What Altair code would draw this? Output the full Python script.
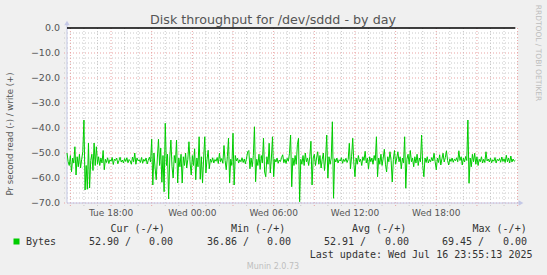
import altair as alt
import pandas as pd

# ---------------- data ----------------
start_hour = 14.75          # hours since Tue 00:00 (first sample)
step_minutes = 5
read_values = [
    -50.0, -53.5, -55.0, -51.0, -57.5, -52.0, -54.0, -47.5, -58.8, -51.5, -55.5, -50.5, -56.0, -52.5, -49.5, -36.8,
    -64.8, -55.0, -64.5, -46.0, -64.0, -53.0, -50.5, -57.0, -46.0, -55.0, -47.5, -54.5, -51.5, -55.0, -52.0, -54.0, -49.0, -56.7,
    -52.5, -53.8, -51.9, -54.2, -52.7, -53.3, -51.8, -54.6, -52.4, -53.0,
    -52.0, -54.3, -53.1, -51.7, -53.6, -52.8, -54.0, -52.2, -53.4, -51.9,
    -53.9, -52.6, -53.2, -54.5, -51.6, -53.5, -50.0, -54.5, -52.0, -53.1,
    -52.7, -53.8, -51.8, -54.1, -52.5, -53.3, -52.0, -54.4, -52.9, -51.7, -53.6,
    -44.5, -62.8, -50.0, -56.0, -60.7, -52.0, -44.5, -55.0, -48.0, -61.7, -51.0, -65.5, -38.1, -55.0, -50.5, -68.4,
    -52.0, -44.8, -55.5, -60.0, -51.0, -54.0, -44.8, -62.0,
    -52.0, -55.5, -50.5, -62.0, -51.5, -55.0, -50.0, -56.0, -52.5, -45.5, -54.0, -58.8, -51.0, -55.0, -48.3, -60.7,
    -52.0, -55.5, -43.5, -60.5, -51.5, -62.0, -52.0, -43.5, -58.0, -52.5, -48.9, -56.3,
    -52.4, -53.7, -51.9, -54.0, -52.6, -53.3, -51.8, -54.2, -50.1, -53.5, -52.2, -54.1,
    -47.0, -53.0, -56.7, -51.5, -44.1, -62.0, -52.5, -55.0, -42.1, -62.8, -51.0,
    -53.2, -52.1, -54.0, -52.7, -53.5, -51.9, -53.8, -52.4, -54.3, -52.0,
    -49.5, -49.0, -56.3, -52.0, -55.5, -51.0, -39.5, -61.5, -52.5, -55.0, -50.5, -56.5, -51.0, -54.0, -44.1, -57.6,
    -59.5, -51.5, -54.5, -46.1, -58.0, -52.0, -43.5, -59.5, -52.5,
    -53.6, -52.0, -54.1, -52.8, -53.4, -51.8, -50.7, -53.9, -52.5, -54.2, -52.1, -53.3, -50.1,
    -42.8, -63.5, -52.0, -55.0, -51.0, -54.5, -46.7, -44.1, -69.5, -52.5, -54.5, -51.0, -55.0, -50.0, -53.5, -52.0,
    -55.0, -51.5, -45.3, -62.8, -52.0,
    -50.5, -55.0, -52.0, -49.5, -54.5, -51.0, -56.0, -52.5, -50.0, -57.0,
    -52.0, -42.8, -60.0, -51.5, -54.5, -52.0, -37.5, -68.1,
    -52.3, -53.6, -52.0, -54.0, -52.7, -53.2, -51.9, -54.1, -52.5, -53.4, -52.1, -53.8, -52.6,
    -46.1, -56.3, -51.5, -44.1, -54.0, -59.5,
    -52.0, -54.5, -51.0, -53.5, -52.5, -55.0, -51.5, -53.0, -49.3, -54.0, -52.0, -56.3, -51.5, -53.5, -52.0, -54.5, -51.0,
    -53.0, -43.5, -59.5, -52.0, -54.5,
    -50.5, -55.0, -52.0, -48.5, -54.5, -57.6, -51.5, -53.5,
    -49.5, -53.0, -61.6, -52.5, -49.0, -54.5, -52.0, -49.5, -53.5, -51.5, -56.3, -52.0, -54.0, -43.5, -64.1, -52.5,
    -50.5, -54.5, -49.0, -53.5, -52.0, -55.5, -51.5, -54.0, -50.5, -55.0, -52.0,
    -53.5, -42.8, -55.0, -59.5,
    -52.0, -53.8, -51.5, -54.0, -52.6, -53.5, -51.8, -53.2,
    -50.1, -53.5, -56.7,
    -52.0, -53.8, -50.7, -54.8, -52.3, -50.1, -53.6, -51.8, -49.1, -53.0,
    -54.8,
    -52.3, -53.4, -52.0, -53.7, -52.5, -53.1, -51.9, -53.5,
    -49.1,
    -53.0, -51.5, -54.8, -52.0, -53.6, -51.4, -53.0,
    -36.8, -62.1, -52.0,
    -55.5, -50.5, -53.5, -50.1, -54.5, -51.5, -55.0, -52.5,
    -53.5, -51.5, -54.0, -52.5, -53.8, -49.5, -53.2,
    -52.4, -53.6, -52.0, -53.9, -52.7, -53.3, -51.8, -54.0, -52.5, -53.1, -52.2, -53.7, -51.6,
    -53.4, -52.3, -53.8, -50.9, -53.5, -52.0, -54.0, -51.2, -53.6, -52.4, -53.3, -52.9,
]
times = [start_hour + i * step_minutes / 60 for i in range(len(read_values))]
write_values = [0.0 for _ in read_values]   # write series is flat at 0 (drawn as the black top line)

x_domain = [14.75, 48.03]
y_domain = [-70, 0]
y_major = [-70, -60, -50, -40, -30, -20, -10, 0]
y_minor = [v for v in range(-70, 1, 2) if v % 10 != 0]
x_major = list(range(15, 49, 3))
x_minor = [h for h in range(15, 49) if h not in x_major]
tick_hours = [18, 24, 30, 36, 42]
tick_labels = ["Tue 18:00", "Wed 00:00", "Wed 06:00", "Wed 12:00", "Wed 18:00"]

title_text = "Disk throughput for /dev/sddd - by day"
y_title = "Pr second read (-) / write (+)"
side_text = "RRDTOOL / TOBI OETIKER"
series_name = "Bytes"
col_headers = ["Cur (-/+)", "Min (-/+)", "Avg (-/+)", "Max (-/+)"]
col_read = ["52.90 /", "36.86 /", "52.91 /", "69.45 /"]
col_write = ["0.00", "0.00", "0.00", "0.00"]
last_update = "Last update: Wed Jul 16 23:55:13 2025"
footer = "Munin 2.0.73"

# ---------------- chart ----------------
W, H = 451, 175
PL, PT = 67, 28
xs = alt.Scale(domain=x_domain, nice=False, zero=False)
ys = alt.Scale(domain=y_domain, nice=False, zero=False)

df = pd.DataFrame({"t": times, "v": read_values, "w": write_values})

def rules_v(vals, color):
    return alt.Chart(pd.DataFrame({"t": vals})).mark_rule(
        color=color, strokeDash=[1, 2], strokeWidth=1
    ).encode(x=alt.X("t:Q", scale=xs, axis=None), y=alt.value(0), y2=alt.value(H + 3))

def rules_h(vals, color):
    return alt.Chart(pd.DataFrame({"v": vals})).mark_rule(
        color=color, strokeDash=[1, 2], strokeWidth=1
    ).encode(y=alt.Y("v:Q", scale=ys, axis=None), x=alt.value(-3), x2=alt.value(W))

minor_c = "#C8C8C8"
major_c = "#E9A3A3"

grid = (rules_v(x_minor, minor_c) + rules_h(y_minor, minor_c)
        + rules_v(x_major, major_c) + rules_h(y_major[:-1], major_c))

base_pt = alt.Chart(pd.DataFrame({"a": [0]}))

axis_col = "#C4C8E6"
yline = base_pt.mark_rule(color=axis_col, strokeWidth=1).encode(
    x=alt.value(0), y=alt.value(-4), y2=alt.value(H))
xline = base_pt.mark_rule(color=axis_col, strokeWidth=1).encode(
    x=alt.value(0), x2=alt.value(W + 2), y=alt.value(H))
yarrow = base_pt.mark_point(shape="triangle-up", filled=True, color=axis_col, size=30, opacity=1).encode(
    x=alt.value(0), y=alt.value(-5))
xarrow = base_pt.mark_point(shape="triangle-right", filled=True, color=axis_col, size=30, opacity=1).encode(
    x=alt.value(W + 3), y=alt.value(H))

line = alt.Chart(df).mark_line(color="#00CC00", strokeWidth=1, interpolate="linear").encode(
    x=alt.X("t:Q", scale=xs, axis=None),
    y=alt.Y("v:Q", scale=ys, axis=None),
)
# write series (all zero) -> black line along the top
zero = alt.Chart(df).mark_line(color="#000000", strokeWidth=1.5, interpolate="linear").encode(
    x=alt.X("t:Q", scale=xs, axis=None),
    y=alt.Y("w:Q", scale=ys, axis=None),
)

xlab = alt.Chart(pd.DataFrame({"t": tick_hours, "lab": tick_labels})).mark_text(
    font="DejaVu Sans", fontSize=9, color="#555555", align="center", baseline="middle"
).encode(x=alt.X("t:Q", scale=xs, axis=None), y=alt.value(H + 10), text="lab:N")

ylab = alt.Chart(pd.DataFrame({"v": y_major})).mark_text(
    font="DejaVu Sans", fontSize=9.5, color="#555555", align="right", baseline="middle"
).encode(y=alt.Y("v:Q", scale=ys, axis=None), x=alt.value(-7), text=alt.Text("v:Q", format=".1f"))

def txt(text, x, y, size=10, font="DejaVu Sans Mono", color="#333333", align="left", angle=0, baseline="middle"):
    kw = dict(font=font, fontSize=size, color=color, align=align, baseline=baseline)
    if angle:
        kw["angle"] = angle
    return base_pt.mark_text(**kw).encode(x=alt.value(x), y=alt.value(y), text=alt.value(text))

texts = [
    txt(title_text, 273 - PL, 20 - PT, size=12.7, font="DejaVu Sans", color="#555555", align="center"),
    txt(y_title, 10 - PL, 134 - PT, size=8.6, font="DejaVu Sans", color="#555555", align="center", angle=270),
    txt(side_text, 538 - PL, 53 - PT, size=7.5, font="DejaVu Sans", color="#BDBDBD", align="center", angle=90),
    txt(series_name, 26 - PL, 241.6 - PT),
    txt(last_update, 532.5 - PL, 254.5 - PT, align="right"),
    txt(footer, 273 - PL, 266.5 - PT, size=8, font="DejaVu Sans", color="#BEBEBE", align="center"),
]
hdr_x = [110.5, 231, 352, 472.5]
read_x = [89, 207, 324, 442]
write_end_x = [173, 291, 409, 527]
for h, hx in zip(col_headers, hdr_x):
    texts.append(txt(h, hx - PL, 228.6 - PT))
for v, vx in zip(col_read, read_x):
    texts.append(txt(v, vx - PL, 241.6 - PT))
for v, vx in zip(col_write, write_end_x):
    texts.append(txt(v, vx - PL, 241.6 - PT, align="right"))

legend_sq = base_pt.mark_square(color="#00CC00", size=36, opacity=1).encode(
    x=alt.value(16.5 - PL), y=alt.value(241.5 - PT))

chart = alt.layer(grid, yline, xline, yarrow, xarrow, line, zero, xlab, ylab, legend_sq, *texts).properties(
    width=W, height=H,
    autosize=alt.AutoSizeParams(type="none"),
    padding={"left": PL, "top": PT, "right": 547 - PL - W, "bottom": 275 - PT - H},
    background="#F0F0F0",
).configure_view(fill="#FFFFFF", stroke=None)

chart.save("out.html", embed_options={"renderer": "svg", "actions": False})
